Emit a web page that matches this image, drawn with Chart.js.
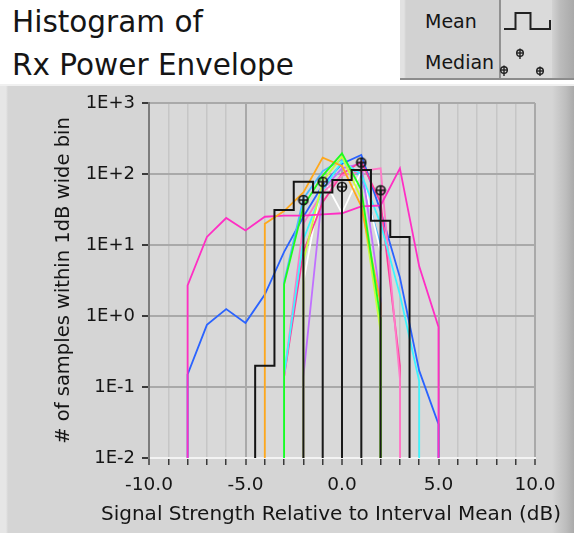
<!DOCTYPE html>
<html>
<head>
<meta charset="utf-8">
<title>Histogram of Rx Power Envelope</title>
<script src="https://cdn.jsdelivr.net/npm/chart.js@4.4.1/dist/chart.umd.min.js"></script>
<style>
  html, body { margin: 0; padding: 0; background: #fff; }
  #wrap { position: relative; width: 574px; height: 533px; overflow: hidden; font-family: "DejaVu Sans", sans-serif; color: #151515; }
  #panel { position: absolute; left: 0; top: 84px; width: 574px; height: 449px; box-sizing: border-box;
           border-top: 2px solid #f0f0f0;
           background: linear-gradient(to right, #e6e6e6 0px, #e6e6e6 6px, #d5d5d5 8px, #d5d5d5 552px, #bdbdbd 566px, #aaaaaa 574px); }
  #title { position: absolute; left: 12px; top: 1px; font-size: 29.5px; line-height: 43px; white-space: nowrap; }
  #xtitle { position: absolute; left: 101px; top: 501px; font-size: 20px; line-height: 24px; white-space: nowrap; z-index: 2; }
  #legend { position: absolute; left: 400px; top: 0; width: 174px; height: 80px;
            background: linear-gradient(to right, #e2e2e2 0px, #e2e2e2 4px, #d2d2d2 6px, #d2d2d2 152px, #bcbcbc 160px, #a9a9a9 174px);
            border-bottom: 2px solid #8c8c8c; box-sizing: border-box; }
  #legend .lbl { position: absolute; left: 25px; font-size: 19px; line-height: 22px; white-space: nowrap; }
  #legend svg { position: absolute; left: 0; top: 0; }
  #c { position: absolute; left: 0; top: 0; }
</style>
</head>
<body>
<div id="wrap">
  <div id="panel"></div>
  <div id="title">Histogram of<br>Rx Power Envelope</div>
  <div id="legend">
    <svg width="174" height="80">
      <rect x="100" y="0" width="52" height="78" fill="#dadada"/>
      <line x1="100" y1="0" x2="100" y2="78" stroke="#7a7a7a" stroke-width="1.5"/>
      <polyline points="104,29 115.5,29 115.5,13 130.5,13 130.5,29 150,29 150,20" fill="none" stroke="#222" stroke-width="2"/>
      <g stroke="#222" stroke-width="1.4" fill="none">
        <circle cx="104" cy="70" r="3.3"/><line x1="100.5" y1="70" x2="107.5" y2="70"/><line x1="104" y1="65.5" x2="104" y2="76"/>
        <circle cx="120" cy="53" r="3.3"/><line x1="116.5" y1="53" x2="123.5" y2="53"/><line x1="120" y1="48.5" x2="120" y2="59"/>
        <circle cx="140" cy="71" r="3.3"/><line x1="136.5" y1="71" x2="143.5" y2="71"/><line x1="140" y1="66.5" x2="140" y2="76"/>
      </g>
    </svg>
    <div class="lbl" style="top:10px">Mean</div>
    <div class="lbl" style="top:51px">Median</div>
  </div>
  <canvas id="c" width="574" height="533"></canvas>
  <div id="xtitle">Signal Strength Relative to Interval Mean (dB)</div>
</div>
<script>
// bin centres (dB), 1 dB wide bins
const binX = [-8, -7, -6, -5, -4, -3, -2, -1, 0, 1, 2, 3, 4, 5];
const binWidth = 1;

// per-interval histograms (counts per bin, 0 = empty bin)
const magentaCounts = [2.7, 13, 24, 16, 25, 26, 26, 27, 28, 35, 36, 120, 5, 0.7];
const blueCounts    = [0.15, 0.75, 1.25, 0.8, 2.0, 8, 25, 70, 140, 185, 30, 3.5, 0.17, 0.03];
const orangeCounts  = [0, 0, 0, 0, 20, 30, 55, 170, 130, 35, 1.5, 0, 0, 0];
const greenCounts   = [0, 0, 0, 0, 0, 2.8, 35, 95, 195, 60, 0.9, 0, 0, 0];
const cyanCounts    = [0, 0, 0, 0, 0, 0.15, 12, 60, 150, 100, 20, 2, 0.12, 0];
const pinkCounts    = [0, 0, 0, 0, 0, 0.14, 20, 55, 95, 110, 120, 0.13, 0, 0];
const purpleCounts  = [0, 0, 0, 0, 0, 0, 0.14, 60, 120, 140, 1.7, 0, 0, 0];
const whiteCounts   = [0, 0, 0, 0, 0, 0, 3, 90, 28, 110, 8, 0, 0, 0];
const limeCounts    = [0, 0, 0, 0, 0, 0, 6, 80, 175, 45, 0.6, 0, 0, 0];
const skyCounts     = [0, 0, 0, 0, 0, 3, 45, 110, 160, 90, 10, 0, 0, 0];
const roseCounts    = [0, 0, 0, 0, 0, 0.14, 8, 40, 100, 150, 40, 0.2, 0, 0];

// mean histogram and medians
const meanCounts = [0, 0, 0, 0, 0.2, 31, 78, 55, 82, 114, 22, 13, 0, 0];
const medianX = [-2, -1, 0, 1, 2];
const medianY = [43, 78, 66, 145, 59];

// axes
const xMin = -10, xMax = 10;
const xLabelValues = [-10, -5, 0, 5, 10];
const xTickLabels = ['-10.0', '-5.0', '0.0', '5.0', '10.0'];
const yTickValues = [0.01, 0.1, 1, 10, 100, 1000];
const yTickLabels = ['1E-2', '1E-1', '1E+0', '1E+1', '1E+2', '1E+3'];
const yMin = yTickValues[0], yMax = yTickValues[yTickValues.length - 1];

// log(0) is drawn as a drop to the bottom edge
function histPoints(counts) {
  const pts = [];
  counts.forEach((c, i) => { if (c > 0) pts.push({ x: binX[i], y: c }); });
  const first = pts[0].x, last = pts[pts.length - 1].x;
  return [{ x: first, y: yMin }, ...pts, { x: last, y: yMin }];
}

function stepPoints(counts) {
  const pts = [];
  let lastX = null;
  counts.forEach((c, i) => {
    if (c > 0) { pts.push({ x: binX[i] - binWidth / 2, y: c }); lastX = binX[i] + binWidth / 2; }
  });
  return [{ x: pts[0].x, y: yMin }, ...pts, { x: lastX, y: yMin }];
}

function dropPoints(xs, ys) {
  return xs.flatMap((x, i) => [{ x, y: yMin }, { x, y: ys[i] }, { x, y: null }]);
}

function medianGlyph() {
  const c = document.createElement('canvas');
  c.width = 12; c.height = 12;
  const g = c.getContext('2d');
  g.strokeStyle = '#111';
  g.lineWidth = 1.7;
  g.beginPath(); g.arc(6, 6, 4.5, 0, Math.PI * 2); g.stroke();
  g.beginPath();
  g.moveTo(1.5, 6); g.lineTo(10.5, 6);
  g.moveTo(6, 1.5); g.lineTo(6, 10.5);
  g.stroke();
  return c;
}

const series = [
  { counts: greenCounts, color: '#1cff1c' },
  { counts: orangeCounts, color: '#ffa81c' },
  { counts: magentaCounts, color: '#ff2ec4' },
  { counts: limeCounts, color: '#c8ff3c' },
  { counts: cyanCounts, color: '#3cf6ff' },
  { counts: pinkCounts, color: '#ff7ac8' },
  { counts: roseCounts, color: '#ff3c9c' },
  { counts: purpleCounts, color: '#c070ff' },
  { counts: whiteCounts, color: '#ffffff' },
  { counts: skyCounts, color: '#4cb8ff' },
  { counts: blueCounts, color: '#2a63ff' }
];

const datasets = [
  {
    label: 'Median', data: medianX.map((x, i) => ({ x, y: medianY[i] })),
    showLine: false, pointStyle: medianGlyph(), pointRadius: 6, order: 0
  },
  {
    label: 'Median drop', data: dropPoints(medianX, medianY),
    borderColor: '#1a1a1a', borderWidth: 2, pointRadius: 0, spanGaps: false, order: 1
  },
  {
    label: 'Mean', data: stepPoints(meanCounts), stepped: 'before',
    borderColor: '#141414', borderWidth: 2, pointRadius: 0, order: 2
  },
  ...series.map((s, i) => ({
    label: 'interval ' + (i + 1), data: histPoints(s.counts),
    borderColor: s.color, borderWidth: 1.8, pointRadius: 0, order: 3 + i
  }))
];

const plotBg = {
  id: 'plotBg',
  beforeDraw(chart) {
    const { ctx, chartArea: a } = chart;
    ctx.save();
    ctx.fillStyle = '#d9d9d9';
    ctx.fillRect(a.left, a.top, a.right - a.left, a.bottom - a.top);
    ctx.restore();
  }
};

const axisFont = { family: 'DejaVu Sans', size: 18 };

new Chart(document.getElementById('c'), {
  type: 'line',
  data: { datasets },
  plugins: [plotBg],
  options: {
    responsive: false,
    devicePixelRatio: 1,
    animation: false,
    layout: { padding: { left: 52, top: 103, right: 39, bottom: 0 } },
    plugins: { legend: { display: false }, tooltip: { enabled: false } },
    elements: { line: { tension: 0 } },
    scales: {
      x: {
        type: 'linear', min: xMin, max: xMax,
        afterFit: s => { s.height = 75; },
        ticks: {
          stepSize: 1, autoSkip: false, maxRotation: 0, padding: 9,
          color: '#151515', font: { family: 'DejaVu Sans', size: 18.5 },
          callback: v => { const k = xLabelValues.indexOf(v); return k >= 0 ? xTickLabels[k] : ''; }
        },
        grid: {
          color: c => (c.tick && c.tick.value % 5 === 0) ? '#a9a9a9' : '#c6c6c6',
          lineWidth: c => (c.tick && c.tick.value % 5 === 0) ? 2 : 1.5,
          tickColor: '#3a3a3a', tickLength: 7, tickWidth: 1.5
        },
        border: { color: '#f3f3f3', width: 2 }
      },
      y: {
        type: 'logarithmic', min: yMin, max: yMax,
        afterFit: s => { s.width = 97; },
        afterBuildTicks: s => { s.ticks = yTickValues.map(v => ({ value: v })); },
        ticks: {
          autoSkip: false, padding: 7, color: '#151515', font: axisFont,
          callback: v => yTickLabels[yTickValues.indexOf(v)]
        },
        grid: { color: '#a9a9a9', lineWidth: 2, tickColor: '#3a3a3a', tickLength: 7, tickWidth: 2 },
        border: { color: '#7c7c7c', width: 2 },
        title: {
          display: true, text: '# of samples within 1dB wide bin',
          color: '#151515', font: { family: 'DejaVu Sans', size: 19.5 }, padding: { top: 0, bottom: 0 }
        }
      }
    }
  }
});
</script>
</body>
</html>
